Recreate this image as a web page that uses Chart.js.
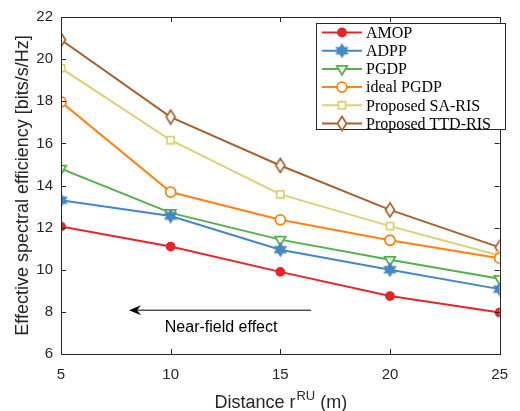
<!DOCTYPE html>
<html>
<head>
<meta charset="utf-8">
<script src="https://cdn.jsdelivr.net/npm/chart.js@4.4.1/dist/chart.umd.min.js"></script>
<style>
  html, body { margin: 0; padding: 0; background: #fff; }
  #wrap { width: 520px; height: 411px; }
</style>
</head>
<body>
<div id="wrap"><canvas id="grafico" width="520" height="411"></canvas></div>
<script>
// datos
const distancias = [5, 10, 15, 20, 25];
const amop = [12.05, 11.1, 9.9, 8.75, 7.97];
const adpp = [13.3, 12.55, 10.95, 10.0, 9.08];
const pgdp = [14.8, 12.7, 11.43, 10.47, 9.57];
const idealPgdp = [17.97, 13.69, 12.37, 11.4, 10.55];
const saRis = [19.57, 16.15, 13.58, 12.07, 10.68];
const ttdRis = [20.92, 17.25, 14.95, 12.84, 11.06];

const series = ["AMOP", "ADPP", "PGDP", "ideal PGDP", "Proposed SA-RIS", "Proposed TTD-RIS"];
const valores = [amop, adpp, pgdp, idealPgdp, saRis, ttdRis];
const colores = ["#e4262b", "#4587c6", "#55b14d", "#ff8214", "#dcd275", "#a8612e"];

const yTicks = [6, 8, 10, 12, 14, 16, 18, 20, 22];
const textoFlecha = "Near-field effect";

// estrella de 6 puntas (hexagrama), rellena
function hexagrama(color) {
  const c = document.createElement("canvas");
  c.width = 15; c.height = 15;
  const ctx = c.getContext("2d");
  ctx.strokeStyle = color;
  ctx.lineWidth = 1.2;
  ctx.fillStyle = color;
  const r = 6.5;
  [0, Math.PI].forEach(off => {
    ctx.beginPath();
    for (let i = 0; i < 3; i++) {
      const a = off - Math.PI / 2 + i * 2 * Math.PI / 3;
      const px = 7.5 + r * Math.cos(a), py = 7.5 + r * Math.sin(a);
      if (i === 0) ctx.moveTo(px, py); else ctx.lineTo(px, py);
    }
    ctx.closePath();
    ctx.fill();
    ctx.stroke();
  });
  return c;
}

function diamante(color) {
  const c = document.createElement("canvas");
  c.width = 12; c.height = 17;
  const ctx = c.getContext("2d");
  ctx.strokeStyle = color;
  ctx.fillStyle = "#fff";
  ctx.lineWidth = 1.7;
  ctx.beginPath();
  ctx.moveTo(6, 1.5); ctx.lineTo(10.5, 8.5); ctx.lineTo(6, 15.5); ctx.lineTo(1.5, 8.5);
  ctx.closePath();
  ctx.fill();
  ctx.stroke();
  return c;
}

const estilos = [
  { pointStyle: "circle", radius: 4, fill: colores[0], rotation: 0 },
  { pointStyle: hexagrama(colores[1]), radius: 6, fill: colores[1], rotation: 0 },
  { pointStyle: "triangle", radius: 6, fill: "#fff", rotation: 180 },
  { pointStyle: "circle", radius: 5, fill: "#fff", rotation: 0 },
  { pointStyle: "rect", radius: 5, fill: "#fff", rotation: 0 },
  { pointStyle: diamante(colores[5]), radius: 6, fill: "#fff", rotation: 0 }
];

const datasets = series.map((nombre, i) => ({
  label: nombre,
  data: distancias.map((d, j) => ({ x: d, y: valores[i][j] })),
  borderColor: colores[i],
  backgroundColor: estilos[i].fill,
  borderWidth: 2,
  pointStyle: estilos[i].pointStyle,
  pointRadius: estilos[i].radius,
  pointRotation: estilos[i].rotation,
  pointBorderWidth: 1.8,
  pointBackgroundColor: estilos[i].fill,
  pointBorderColor: colores[i],
  tension: 0
}));

const sans = "'Liberation Sans', Arial, sans-serif";
const serif = "'Liberation Serif', 'Times New Roman', serif";

// marco, ticks hacia dentro, titulos, leyenda y anotacion
const extras = {
  id: "extras",
  afterDraw(chart) {
    const ctx = chart.ctx;
    const a = chart.chartArea;
    const sx = chart.scales.x, sy = chart.scales.y;
    ctx.save();
    ctx.strokeStyle = "#262626";
    ctx.lineWidth = 1;
    ctx.strokeRect(Math.round(a.left) + 0.5, Math.round(a.top) + 0.5, Math.round(a.right - a.left), Math.round(a.bottom - a.top));
    const tl = 5;
    ctx.beginPath();
    distancias.forEach(d => {
      const px = Math.round(sx.getPixelForValue(d)) + 0.5;
      ctx.moveTo(px, a.bottom); ctx.lineTo(px, a.bottom - tl);
      ctx.moveTo(px, a.top); ctx.lineTo(px, a.top + tl);
    });
    yTicks.forEach(v => {
      const py = Math.round(sy.getPixelForValue(v)) + 0.5;
      ctx.moveTo(a.left, py); ctx.lineTo(a.left + tl, py);
      ctx.moveTo(a.right, py); ctx.lineTo(a.right - tl, py);
    });
    ctx.stroke();

    // titulo eje y
    ctx.fillStyle = "#262626";
    ctx.font = "18px " + sans;
    ctx.textAlign = "center";
    ctx.textBaseline = "middle";
    ctx.save();
    ctx.translate(23, (a.top + a.bottom) / 2);
    ctx.rotate(-Math.PI / 2);
    ctx.fillText("Effective spectral efficiency [bits/s/Hz]", 0, 0);
    ctx.restore();

    // titulo eje x con superindice
    const p1 = "Distance r", sup = "RU", p2 = " (m)";
    ctx.font = "18px " + sans;
    const w1 = ctx.measureText(p1).width, w3 = ctx.measureText(p2).width;
    ctx.font = "13px " + sans;
    const w2 = ctx.measureText(sup).width;
    let x0 = (a.left + a.right) / 2 - (w1 + w2 + w3) / 2;
    const yb = 408;
    ctx.textAlign = "left";
    ctx.textBaseline = "alphabetic";
    ctx.font = "18px " + sans;
    ctx.fillText(p1, x0, yb);
    ctx.font = "13px " + sans;
    ctx.fillText(sup, x0 + w1 + 1, yb - 8);
    ctx.font = "18px " + sans;
    ctx.fillText(p2, x0 + w1 + w2 + 1, yb);

    // flecha
    const fx1 = sx.getPixelForValue(16.4), fx2 = sx.getPixelForValue(8.1);
    const fy = sy.getPixelForValue(8.08);
    ctx.strokeStyle = "#000";
    ctx.fillStyle = "#000";
    ctx.lineWidth = 1;
    ctx.beginPath();
    ctx.moveTo(fx1, fy); ctx.lineTo(fx2 + 4, fy);
    ctx.stroke();
    ctx.beginPath();
    ctx.moveTo(fx2, fy);
    ctx.lineTo(fx2 + 12, fy - 5);
    ctx.lineTo(fx2 + 8, fy);
    ctx.lineTo(fx2 + 12, fy + 5);
    ctx.closePath();
    ctx.fill();
    ctx.font = "16px " + sans;
    ctx.textAlign = "center";
    ctx.textBaseline = "middle";
    ctx.fillStyle = "#000";
    ctx.fillText(textoFlecha, sx.getPixelForValue(12.3), sy.getPixelForValue(7.24));

    // leyenda
    const lx = 316.5, ly = 23.5, lw = 189, lh = 106;
    ctx.fillStyle = "#fff";
    ctx.fillRect(lx, ly, lw, lh);
    ctx.strokeStyle = "#262626";
    ctx.strokeRect(lx, ly, lw, lh);
    ctx.font = "16px " + serif;
    ctx.textAlign = "left";
    ctx.textBaseline = "middle";
    series.forEach((nombre, i) => {
      const ry = 32.5 + i * 18.2;
      ctx.strokeStyle = colores[i];
      ctx.lineWidth = 2;
      ctx.beginPath();
      ctx.moveTo(322, ry); ctx.lineTo(362, ry);
      ctx.stroke();
      const st = estilos[i];
      if (typeof st.pointStyle === "string") {
        ctx.fillStyle = st.fill;
        ctx.lineWidth = 1.8;
        Chart.helpers.drawPoint(ctx, { pointStyle: st.pointStyle, radius: st.radius, rotation: st.rotation, borderWidth: 1.8 }, 342, ry);
      } else {
        ctx.drawImage(st.pointStyle, 342 - st.pointStyle.width / 2, ry - st.pointStyle.height / 2);
      }
      ctx.fillStyle = "#000";
      ctx.fillText(nombre, 366, ry + 1);
    });
    ctx.restore();
  }
};

new Chart(document.getElementById("grafico"), {
  type: "line",
  data: { datasets },
  options: {
    responsive: false,
    animation: false,
    devicePixelRatio: 1,
    layout: { padding: { top: 12, right: 13, left: 0, bottom: 0 } },
    plugins: {
      legend: { display: false },
      tooltip: { enabled: false }
    },
    scales: {
      x: {
        type: "linear",
        min: 5, max: 25,
        afterFit: s => { s.height = 57; },
        afterBuildTicks: s => { s.ticks = distancias.map(v => ({ value: v })); },
        grid: { display: false, drawTicks: false },
        border: { display: false },
        ticks: { color: "#262626", font: { family: sans, size: 15 }, padding: 12, maxRotation: 0 }
      },
      y: {
        min: 6, max: 22,
        afterFit: s => { s.width = 61; },
        afterBuildTicks: s => { s.ticks = yTicks.map(v => ({ value: v })); },
        grid: { display: false, drawTicks: false },
        border: { display: false },
        ticks: { color: "#262626", font: { family: sans, size: 15 }, padding: 8 }
      }
    }
  },
  plugins: [extras]
});
</script>
</body>
</html>
